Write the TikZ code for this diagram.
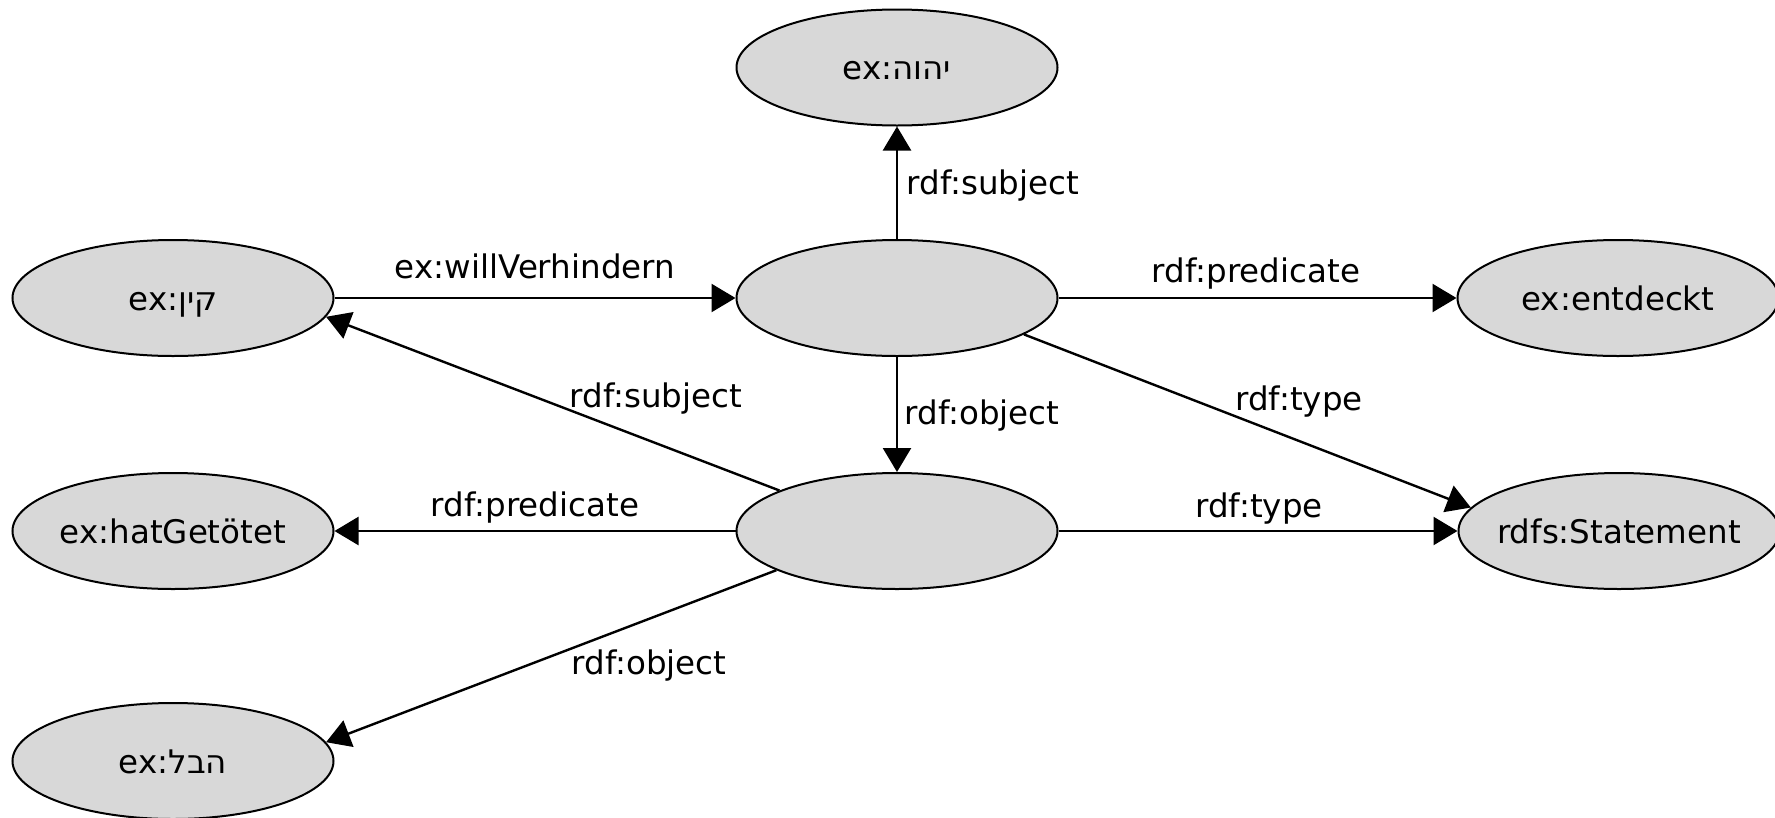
\documentclass[tikz,border=0pt]{standalone}
\usepackage{fontspec}
\setmainfont{DejaVu Sans}
\newfontfamily\hebfont[Script=Hebrew]{DejaVu Sans}
\TeXXeTstate=1
\usetikzlibrary{shapes.geometric,arrows.meta}
\definecolor{ellfill}{RGB}{216,216,216}
\newcommand{\heb}[1]{{\hebfont\beginR #1\endR}}
\begin{document}
\begin{tikzpicture}[x=1pt,y=-1pt,
  res/.style={ellipse, draw=black, line width=2pt, fill=ellfill,
    minimum width=321pt, minimum height=116pt, inner sep=0pt,
    text height=24pt, text depth=0pt, font=\fontsize{32.5}{39}\selectfont},
  lbl/.style={anchor=base, inner sep=0pt, font=\fontsize{32.5}{39}\selectfont},
  edge/.style={line width=2.4pt, -{Triangle[length=24pt,width=28pt]}}]
\useasboundingbox (0,0) rectangle (1775,817);
% resources
\node[res] (yhwh)  at (897,67.5) {\makebox[0pt]{ex:\heb{יהוה}}};
\node[res] (kayin) at (173,298)  {\makebox[0pt]{ex:\heb{קין}}};
\node[res] (c1)    at (897,298)  {};
\node[res] (entd)  at (1618,298) {\makebox[0pt]{ex:entdeckt}};
\node[res] (hat)   at (173,531)  {\makebox[0pt]{ex:hatGetötet}};
\node[res] (c2)    at (897,531)  {};
\node[res] (stmt)  at (1619,531) {\makebox[0pt]{rdfs:Statement}};
\node[res] (hevel) at (173,761)  {\makebox[0pt]{ex:\heb{הבל}}};
% connectors
\draw[edge] (kayin.east) -- (c1.west);
\draw[edge] (c1.north) -- (yhwh.south);
\draw[edge] (c1.east) -- (entd.west);
\draw[edge] (c1.south) -- (c2.north);
\draw[edge] (c1.-16.2) -- (stmt.171);
\draw[edge] (c2.161.9) -- (kayin.-7.4);
\draw[edge] (c2.west) -- (hat.east);
\draw[edge] (c2.east) -- (stmt.west);
\draw[edge] (c2.198.7) -- (hevel.7.2);
% labels
\node[lbl] (l1) at (535,278) {ex:willVerhindern};
\node[lbl] (l2) at (993,194) {rdf:subject};
\node[lbl] (l3) at (1256,282) {rdf:predicate};
\node[lbl] (l4) at (656,407) {rdf:subject};
\node[lbl] (l5) at (982,424) {rdf:object};
\node[lbl] (l6) at (1299,410) {rdf:type};
\node[lbl] (l7) at (535,516) {rdf:predicate};
\node[lbl] (l8) at (1259,517) {rdf:type};
\node[lbl] (l9) at (649,674) {rdf:object};
\end{tikzpicture}
\end{document}
